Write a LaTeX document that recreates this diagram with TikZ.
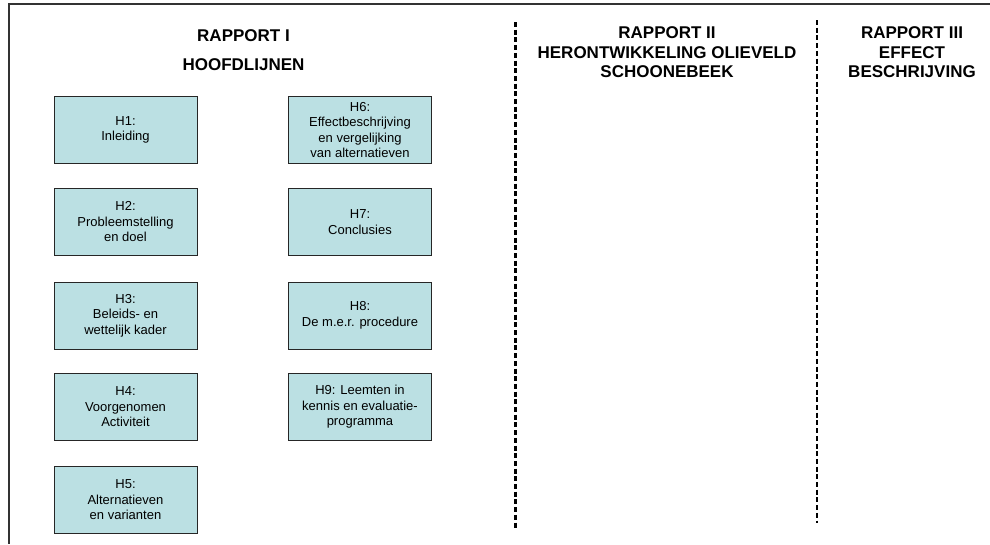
\documentclass[tikz,border=0pt]{standalone}
\usepackage{fontspec}
\setmainfont{Liberation Sans}
\begin{document}
\begin{tikzpicture}[x=1pt,y=-1pt,
  chapter/.style={draw=black!85, line width=1pt, fill=chapfill,
    minimum width=143pt, minimum height=67pt, inner sep=2pt,
    align=center, font=\fontsize{13}{15.5}\selectfont},
  heading/.style={anchor=north, inner sep=0pt, align=center,
    font=\bfseries\fontsize{17}{19.5}\selectfont},
  divider/.style={line width=2.4pt, dash pattern=on 5pt off 2.7pt},
  frame/.style={draw=black!80, line width=1.5pt}]
\definecolor{chapfill}{HTML}{BBE0E3}
\useasboundingbox (0,0) rectangle (990,544);

% outer frame (top and left edges)
\coordinate (fTL) at (9,4);
\coordinate (fTR) at (990,4);
\coordinate (fBL) at (9,544);
\draw[frame] (fTR) -- (fTL) -- (fBL);

% column separators
\coordinate (d1t) at (515.5,22);
\coordinate (d1b) at (515.5,530);
\coordinate (d2t) at (817,20);
\coordinate (d2b) at (817,523);
\draw[divider] (d1t) -- (d1b);
\draw[divider] (d2t) -- (d2b);

% headings
\node[heading, font=\bfseries\fontsize{17}{29}\selectfont] (r1) at (243.5,29) {RAPPORT I\\HOOFDLIJNEN};
\node[heading] (r2) at (667,26.5) {RAPPORT II\\HERONTWIKKELING OLIEVELD\\SCHOONEBEEK};
\node[heading] (r3) at (912,26.5) {RAPPORT III\\EFFECT\\BESCHRIJVING};

% chapters of report I
\node[chapter] (h1) at (125.5,130)   {H1:\\Inleiding};
\node[chapter] (h2) at (125.5,222)   {H2:\\Probleemstelling\\en doel};
\node[chapter] (h3) at (125.5,315.5) {H3:\\Beleids- en\\wettelijk kader};
\node[chapter] (h4) at (125.5,407)   {H4:\\Voorgenomen\\Activiteit};
\node[chapter] (h5) at (125.5,500)   {H5:\\Alternatieven\\en varianten};
\node[chapter] (h6) at (360,130)     {H6:\\Effectbeschrijving\\en vergelijking\\van alternatieven};
\node[chapter] (h7) at (360,222)     {H7:\\Conclusies};
\node[chapter] (h8) at (360,315.5)   {H8:\\De m.e.r. procedure};
\node[chapter] (h9) at (360,407)     {H9: Leemten in\\kennis en evaluatie-\\programma};
\end{tikzpicture}
\end{document}
